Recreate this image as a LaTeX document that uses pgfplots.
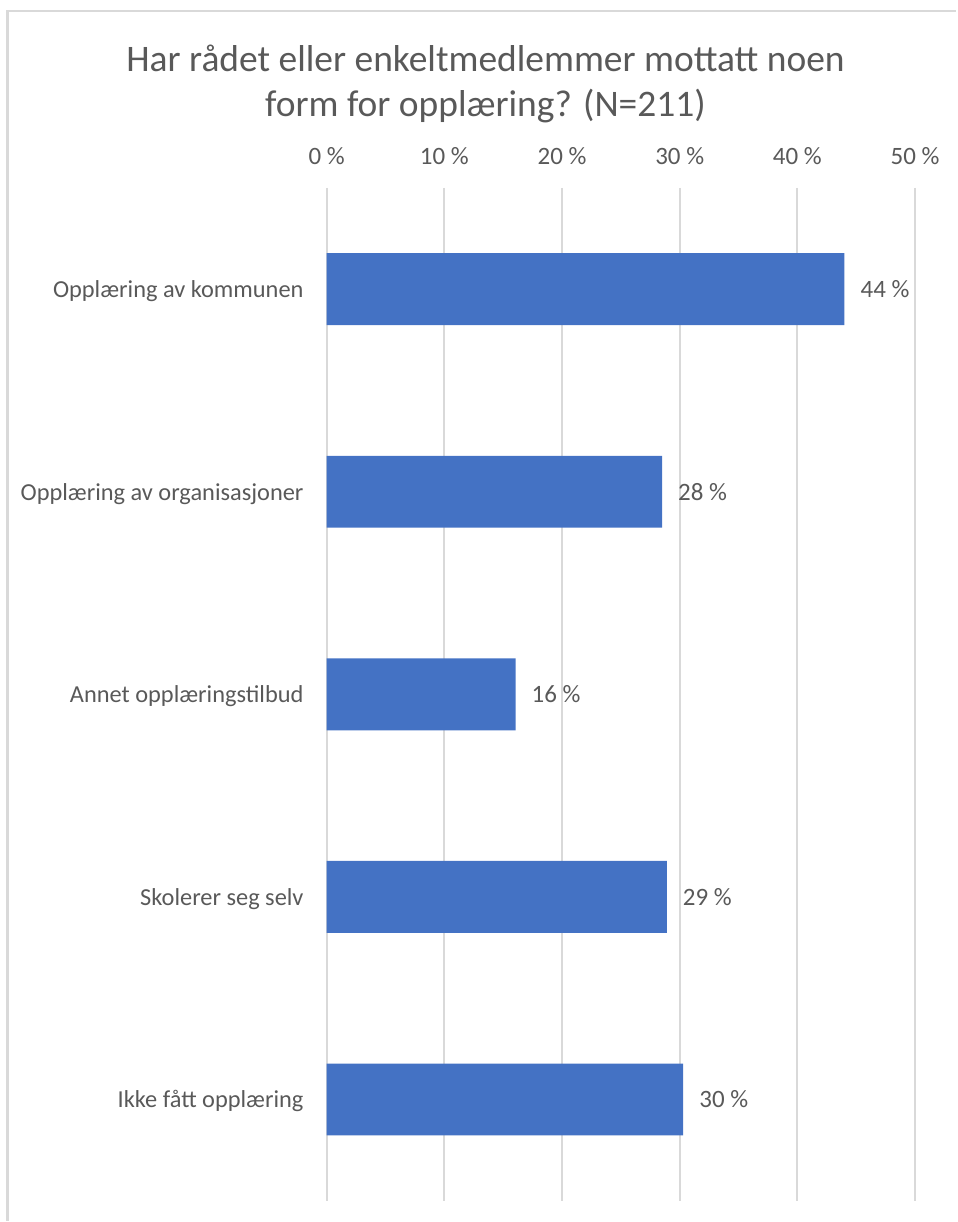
\documentclass[border=0pt]{standalone}
\usepackage{pgfplots}
\pgfplotsset{compat=1.18}
\usepackage{fontspec}
\setmainfont{Carlito}
\definecolor{txt}{HTML}{595959}
\definecolor{grd}{HTML}{D9D9D9}
\definecolor{bar}{HTML}{4472C4}
\begin{document}
\begin{tikzpicture}[x=1pt,y=1pt]
\begin{axis}[
  at={(0,0)}, anchor=south west,
  scale only axis, width=589pt, height=1014pt,
  xbar, bar width=72pt,
  xmin=0, xmax=50, ymin=-0.5, ymax=4.5,
  y dir=reverse,
  axis line style={draw=none},
  major tick length=0pt,
  xtick={0,10,20,30,40,50},
  xticklabel pos=upper,
  xticklabel={\pgfmathprintnumber{\tick}~\%},
  xticklabel style={anchor=base, inner sep=0pt, yshift=23pt, text=txt, font=\fontsize{25}{30}\selectfont},
  /pgf/number format/assume math mode=true,
  xmajorgrids, grid style={grd, line width=1.8pt},
  ytick={0,1,2,3,4},
  yticklabels={Opplæring av kommunen, Opplæring av organisasjoner, Annet opplæringstilbud, Skolerer seg selv, Ikke fått opplæring},
  yticklabel style={anchor=base east, inner sep=0pt, xshift=-23pt, yshift=-8.5pt, text=txt, font=\fontsize{24.4}{30}\selectfont},
  nodes near coords={\pgfplotspointmeta~\%},
  nodes near coords style={anchor=west, inner sep=0pt, xshift=16pt, text=txt, font=\fontsize{25}{30}\selectfont},
  point meta=explicit symbolic,
  clip=false,
]
\addplot[fill=bar, draw=none] coordinates {(44.0,0) [44] (28.5,1) [28] (16.05,2) [16] (28.9,3) [29] (30.3,4) [30]};
\end{axis}
\draw[grd, line width=2.5pt] (-319.5,-20) -- (-319.5,1191) -- (630,1191);
\node[anchor=base, align=center, text=txt, font=\fontsize{37.5}{45}\selectfont] at (159,1085) {Har rådet eller enkeltmedlemmer mottatt noen\\form for opplæring? (N=211)};
\path[use as bounding box] (-327,-20) rectangle (630,1202);
\end{tikzpicture}
\end{document}
